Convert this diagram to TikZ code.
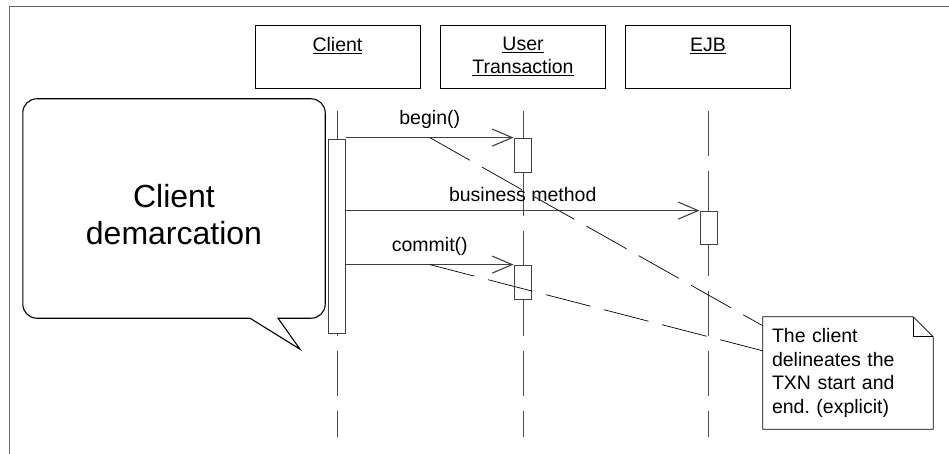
\documentclass[tikz,border=0pt]{standalone}
\usepackage{fontspec}
\setmainfont{Liberation Sans}
\usetikzlibrary{arrows.meta,positioning,calc}

\begin{document}
\begin{tikzpicture}[
    x=1pt, y=-1pt,
    every node/.style={font=\fontsize{19.5}{23.5}\selectfont},
    objbox/.style={draw, line width=0.8pt, minimum width=165pt, minimum height=63pt, align=center, inner sep=0pt},
    lifeline/.style={black!70, line width=0.8pt, dash pattern=on 45pt off 15pt},
    act/.style={draw, black!75, fill=white, line width=0.8pt, minimum width=17pt, inner sep=0pt},
    msg/.style={black!75, line width=0.8pt, -{Straight Barb[length=20pt, width=17pt, line width=1.1pt]}},
    msglabel/.style={midway, above=9pt, inner sep=0pt, text=black},
    noteline/.style={black, line width=0.7pt, dash pattern=on 46pt off 14pt},
    bubble/.style={minimum width=302pt, minimum height=219pt, inner sep=0pt},
    calltext/.style={font=\fontsize{32}{37}\selectfont, align=center},
    notetext/.style={minimum width=170pt, minimum height=112pt, text width=152pt, inner sep=9pt, align=left}
]

\useasboundingbox (0,0) rectangle (949,454);

% frame
\draw[black!60, line width=0.8pt] (9,454) -- (9,6) -- (949,6);

% objects
\node[objbox] (client) at (337.5,56.5) {\underline{Client}\\\mbox{}};
\node[objbox] (usertxn) at (523,56.5) {\underline{User}\\\underline{Transaction}};
\node[objbox] (ejb) at (708,56.5) {\underline{EJB}\\\mbox{}};

% lifelines
\draw[lifeline] ([yshift=-23pt]client.south) -- ++(0,326);
\draw[lifeline] ([yshift=-23pt]usertxn.south) -- ++(0,326);
\draw[lifeline] ([yshift=-23pt]ejb.south) -- ++(0,326);

% activations
\node[act, minimum height=194pt] (clientact) at (337,236) {};
\node[act, minimum height=34pt] (utact1) at (522.5,155) {};
\node[act, minimum height=33pt] (ejbact) at (708.5,227.5) {};
\node[act, minimum height=34pt] (utact2) at (522.5,282) {};

% messages
\draw[msg] (clientact.east |- utact1.north) -- (utact1.north west)
    node[msglabel] (beginlbl) {begin()}
    coordinate[midway] (beginpt);
\draw[msg] (clientact.east |- ejbact.north) -- (ejbact.north west)
    node[msglabel] (bizlbl) {business method};
\draw[msg] (clientact.east |- utact2.north) -- (utact2.north west)
    node[msglabel] (commitlbl) {commit()}
    coordinate[midway] (commitpt);

% note
\node[notetext] (note) at (848,373) {The client\\delineates the\\TXN start and\\end.\ (explicit)};
\draw[line width=0.8pt] (note.north west) -- ([xshift=-20pt]note.north east) -- ([yshift=-20pt]note.north east)
    -- (note.south east) -- (note.south west) -- cycle;
\draw[line width=0.8pt] ([xshift=-20pt]note.north east) |- ([yshift=-20pt]note.north east);

\draw[noteline] (beginpt) -- ([yshift=-9pt]note.north west);
\draw[noteline] (commitpt) -- ([yshift=-34pt]note.north west);

% callout
\node[bubble] (bubble) at (174,208.5) {};
\coordinate (ptA) at ([xshift=76pt]bubble.south);
\coordinate (ptB) at ([xshift=104pt]bubble.south);
\coordinate (tip) at ([xshift=126pt,yshift=-31pt]bubble.south);
\draw[line width=1.1pt] (tip) -- (ptA) [rounded corners=14pt] -- (bubble.south west) -- (bubble.north west)
    -- (bubble.north east) -- (bubble.south east) [sharp corners] -- (ptB) -- cycle;
\node[calltext] (calltxt) at ([yshift=-6pt]bubble.center) {Client\\demarcation};

\end{tikzpicture}
\end{document}
